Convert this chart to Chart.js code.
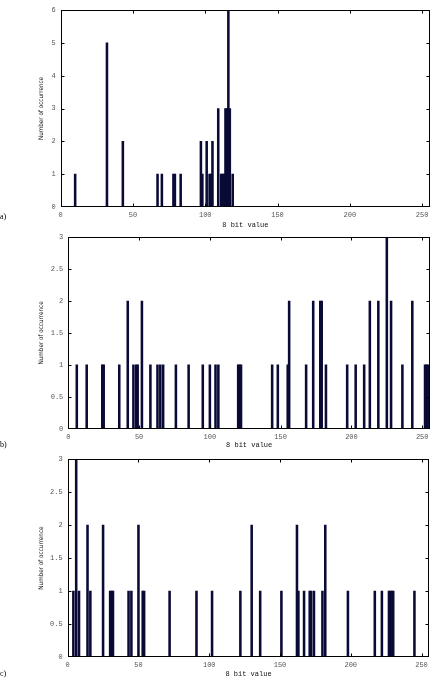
<!DOCTYPE html>
<html><head><meta charset="utf-8">
<script src="https://cdn.jsdelivr.net/npm/chart.js@4"></script>
<style>
html,body{margin:0;padding:0;background:#fff;}
body{width:434px;height:680px;position:relative;overflow:hidden;}
canvas{position:absolute;left:0;}
.lbl{position:absolute;left:0;font:8px "Liberation Serif",serif;color:#000;line-height:8px;}
</style></head><body>
<canvas id="ca" style="top:0px;width:434px;height:232px"></canvas>
<canvas id="cb" style="top:228px;width:434px;height:224px"></canvas>
<canvas id="cc" style="top:450px;width:434px;height:230px"></canvas>
<div class="lbl" style="top:213px">a)</div>
<div class="lbl" style="top:441px">b)</div>
<div class="lbl" style="top:670px">c)</div>
<script>
// ---- data ----
const xTickVals = [0, 50, 100, 150, 200, 250];
const aYTickVals = [0, 1, 2, 3, 4, 5, 6];
const bcYTickVals = [0, 0.5, 1, 1.5, 2, 2.5, 3];

const aBins   = [10, 32, 43, 67, 70, 78, 79, 83, 97, 98, 101, 103, 104, 105, 109, 111, 112, 113, 114, 115, 116, 117, 119];
const aCounts = [1,  5,  2,  1,  1,  1,  1,  1,  2,  1,  2,   1,   1,   2,   3,   1,   1,   1,   3,   3,   6,   3,   1];

const bBins   = [6, 13, 24, 25, 36, 42, 46, 48, 49, 52, 58, 63, 65, 67, 76, 85, 95, 100, 104, 106, 120, 121, 122, 144, 148, 155, 156, 168, 173, 178, 179, 182, 197, 203, 209, 213, 219, 225, 228, 236, 243, 252, 253, 254];
const bCounts = [1, 1,  1,  1,  1,  2,  1,  1,  1,  2,  1,  1,  1,  1,  1,  1,  1,  1,   1,   1,   1,   1,   1,   1,   1,   1,   2,   1,   2,   2,   2,   1,   1,   1,   1,   2,   2,   3,   2,   1,   2,   1,   1,   1];

const cBins   = [4, 6, 8, 14, 16, 25, 30, 31, 32, 43, 45, 50, 53, 54, 72, 91, 102, 122, 130, 136, 151, 162, 163, 167, 171, 172, 174, 180, 182, 198, 217, 222, 227, 228, 229, 230, 245];
const cCounts = [1, 3, 1, 2,  1,  2,  1,  1,  1,  1,  1,  2,  1,  1,  1,  1,  1,   1,   2,   1,   1,   2,   1,   1,   1,   1,   1,   1,   2,   1,   1,   1,   1,   1,   1,   1,   1];

const xTitle = '8 bit value';
const yTitle = 'Number of occurrence';

// ---- drawing ----
const frame = {
  id: 'frame',
  afterDatasetsDraw(chart) {
    const {ctx, chartArea, scales} = chart;
    const l = Math.round(chartArea.left) + 0.5, r = Math.round(chartArea.right) - 0.5;
    const t = Math.round(chartArea.top) + 0.5, b = Math.round(chartArea.bottom) - 0.5;
    ctx.save();
    ctx.strokeStyle = '#000';
    ctx.lineWidth = 1;
    ctx.strokeRect(l, t, r - l, b - t);
    ctx.beginPath();
    scales.x.ticks.forEach(tk => {
      const px = Math.round(scales.x.getPixelForValue(tk.value)) + 0.5;
      if (px <= l + 1 || px >= r - 1) return;
      ctx.moveTo(px, b); ctx.lineTo(px, b - 3);
      ctx.moveTo(px, t); ctx.lineTo(px, t + 3);
    });
    scales.y.ticks.forEach(tk => {
      const py = Math.round(scales.y.getPixelForValue(tk.value)) + 0.5;
      if (py <= t + 1 || py >= b - 1) return;
      ctx.moveTo(l, py); ctx.lineTo(l + 3, py);
      ctx.moveTo(r, py); ctx.lineTo(r - 3, py);
    });
    ctx.stroke();
    ctx.restore();
  }
};

function makeChart(id, bins, counts, yTicks, cfg) {
  const el = document.getElementById(id);
  el.width = 434; el.height = cfg.h;
  return new Chart(el, {
    type: 'bar',
    data: {
      datasets: [{
        data: bins.map((v, i) => ({x: v, y: counts[i]})),
        backgroundColor: '#0a0a36',
        borderWidth: 0,
        barThickness: 1.9
      }]
    },
    options: {
      responsive: false,
      animation: false,
      devicePixelRatio: 1,
      plugins: {legend: {display: false}, tooltip: {enabled: false}},
      layout: {padding: {left: 34, right: cfg.padR, top: cfg.padT, bottom: 0}},
      scales: {
        x: {
          type: 'linear',
          offset: false,
          min: 0, max: 255.5,
          grid: {display: false, drawTicks: false, offset: false},
          border: {display: false},
          afterBuildTicks: s => { s.ticks = xTickVals.map(v => ({value: v})); },
          afterFit: s => { s.height = cfg.xh; },
          ticks: {
            padding: 4, maxRotation: 0, autoSkip: false,
            color: '#555',
            font: {family: '"Liberation Mono", "DejaVu Sans Mono", monospace', size: 7},
            callback: v => String(v)
          },
          title: {
            display: true, text: xTitle, color: '#111',
            font: {family: '"Liberation Mono", "DejaVu Sans Mono", monospace', size: 7},
            padding: {top: 0, bottom: cfg.tpb}
          }
        },
        y: {
          type: 'linear',
          min: 0, max: yTicks[yTicks.length - 1],
          grid: {display: false, drawTicks: false},
          border: {display: false},
          afterBuildTicks: s => { s.ticks = yTicks.map(v => ({value: v})); },
          afterFit: s => { s.width = cfg.yw; },
          ticks: {
            padding: 5, autoSkip: false,
            color: '#555',
            font: {family: '"Liberation Mono", "DejaVu Sans Mono", monospace', size: 7},
            callback: v => String(v)
          },
          title: {
            display: true, text: yTitle, color: '#111',
            font: {family: '"Liberation Sans Narrow", "DejaVu Sans Condensed", "Liberation Sans", sans-serif', size: 6.3},
            padding: {top: 3.4, bottom: 0}
          }
        }
      }
    },
    plugins: [frame]
  });
}

makeChart('ca', aBins, aCounts, aYTickVals, {h: 232, padT: 10,  padR: 4,   xh: 25,   yw: 26.7, tpb: 2.8});
makeChart('cb', bBins, bCounts, bcYTickVals, {h: 224, padT: 8,   padR: 4,   xh: 23.3, yw: 34.3, tpb: 2.8});
makeChart('cc', cBins, cCounts, bcYTickVals, {h: 230, padT: 8.3, padR: 4.7, xh: 23,   yw: 33.7, tpb: 1.5});
</script>
</body></html>
